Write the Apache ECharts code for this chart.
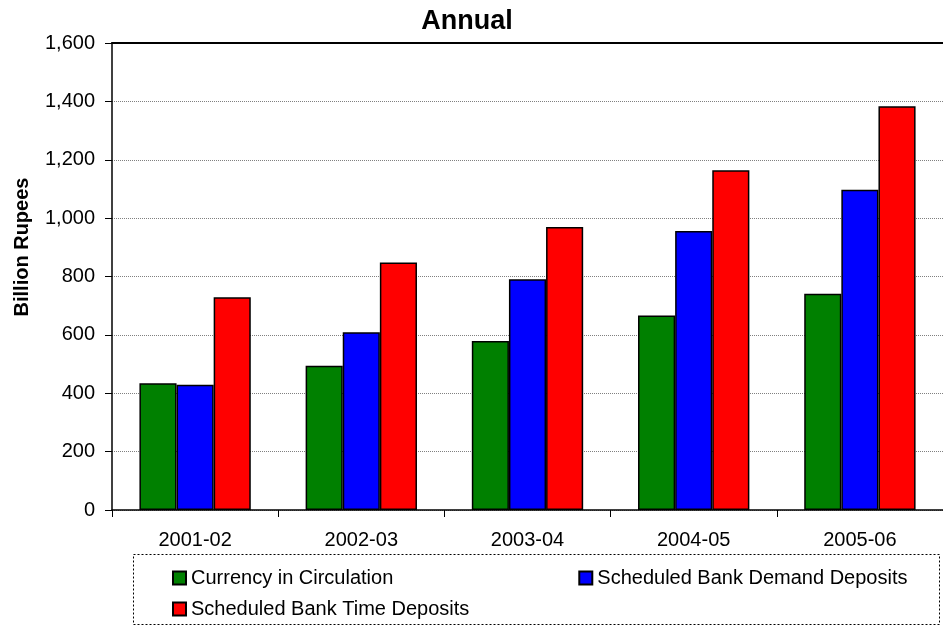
<!DOCTYPE html>
<html>
<head>
<meta charset="utf-8">
<script src="https://cdn.jsdelivr.net/npm/echarts@6/dist/echarts.min.js"></script>
<style>html,body{margin:0;padding:0;background:#fff}#c{width:943px;height:631px}</style>
</head>
<body>
<div id="c"></div>
<script>
const categories = ['2001-02', '2002-03', '2003-04', '2004-05', '2005-06'];
const currency = [434, 494, 579, 666, 741];
const demandDeposits = [429, 609, 791, 956, 1097];
const timeDeposits = [729, 848, 970, 1164, 1383];
const seriesNames = ['Currency in Circulation', 'Scheduled Bank Demand Deposits', 'Scheduled Bank Time Deposits'];
const yAxisTitle = 'Billion Rupees';
const chartTitle = 'Annual';
const colors = ['#008000', '#0000FF', '#FF0000'];

const font = 'Liberation Sans, Arial, sans-serif';
const chart = echarts.init(document.getElementById('c'), null, {renderer: 'canvas'});
const mk = (i, data) => ({
  name: seriesNames[i], type: 'bar', data: data,
  barGap: '0%', barCategoryGap: '33%',
  itemStyle: {color: colors[i], borderColor: '#000', borderWidth: 1.5},
  emphasis: {disabled: true}
});
const legendText = {fontFamily: font, fontSize: 20, color: '#000'};
chart.setOption({
  animation: false,
  title: {text: chartTitle, left: 462, top: 3, textAlign: 'center',
    textStyle: {fontFamily: font, fontSize: 27, fontWeight: 'bold', color: '#000'}},
  grid: {left: 112, right: -3, top: 43, bottom: 121, show: false, containLabel: false},
  legend: [
    {data: [seriesNames[0], seriesNames[1]], left: 167, top: 563, itemGap: 185, itemWidth: 13, itemHeight: 13,
      icon: 'rect', textStyle: legendText, selectedMode: false},
    {data: [seriesNames[2]], left: 167, top: 594, itemWidth: 13, itemHeight: 13,
      icon: 'rect', textStyle: legendText, selectedMode: false}
  ],
  graphic: [
    {type: 'rect', shape: {x: 133.5, y: 554.5, width: 806, height: 70},
      style: {fill: 'none', stroke: '#000', lineWidth: 1, lineDash: [2, 2]}, silent: true},
    {type: 'text', x: 22, y: 247, rotation: Math.PI / 2,
      style: {text: yAxisTitle, font: 'bold 20px ' + font, fill: '#000', align: 'center', verticalAlign: 'middle'}, silent: true}
  ],
  xAxis: [
    {type: 'category', data: categories,
      axisLine: {lineStyle: {color: '#000', width: 1.5}},
      axisTick: {show: true, alignWithLabel: false, length: 7, lineStyle: {color: '#000'}},
      axisLabel: {fontFamily: font, fontSize: 20, color: '#000', margin: 20}},
    {type: 'category', data: categories, position: 'top',
      axisLine: {show: true, lineStyle: {color: '#000', width: 2}},
      axisTick: {show: false}, axisLabel: {show: false}, splitLine: {show: false}}
  ],
  yAxis: {type: 'value', min: 0, max: 1600, interval: 200,
    axisLine: {show: true, lineStyle: {color: '#000', width: 1.5}},
    axisTick: {show: true, length: 7, lineStyle: {color: '#000'}},
    axisLabel: {fontFamily: font, fontSize: 20, color: '#000', margin: 17,
      formatter: v => v.toLocaleString('en-US')},
    splitLine: {show: true, lineStyle: {color: '#808080', type: 'dotted', width: 1}}},
  series: [mk(0, currency), mk(1, demandDeposits), mk(2, timeDeposits)]
});
</script>
</body>
</html>
